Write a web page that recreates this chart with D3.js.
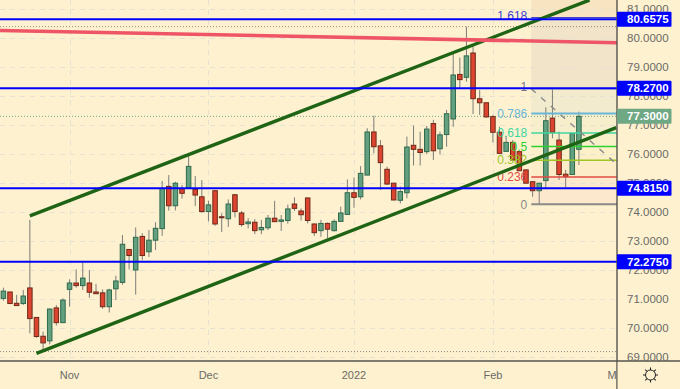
<!DOCTYPE html>
<html>
<head>
<meta charset="utf-8">
<style>
  html, body { margin: 0; padding: 0; background: #fdf1d0; }
  svg { display: block; font-family: "Liberation Sans", sans-serif; }
</style>
</head>
<body>
<svg id="chart" width="680" height="389"></svg>
<script src="https://cdn.jsdelivr.net/npm/d3@7"></script>
<script>
// daily candles
const opens = [71.01,71.23,70.84,70.83,71.37,70.35,69.70,69.54,70.68,70.17,71.32,71.54,71.45,71.54,71.23,71.20,70.72,71.34,71.56,72.70,71.99,73.15,72.62,73.02,
  73.42,74.88,74.21,74.80,74.82,74.78,74.52,74.01,74.73,73.83,73.76,74.59,73.96,73.59,73.64,73.38,73.45,73.78,73.67,73.70,74.27,74.03,74.48,73.58,73.35,73.60,73.35,73.67,73.91,74.66,
  74.52,75.27,76.76,76.28,75.47,74.99,74.40,74.66,76.30,76.16,76.08,77.05,76.18,76.67,77.21,78.75,78.65,79.49,77.91,77.77,77.29,76.75,76.09,76.40,76.08,75.45,75.04,74.73,75.08,77.24,76.48,75.30,75.29,76.16];
const highs = [71.38,71.23,71.13,71.30,73.72,70.35,69.86,70.66,70.78,71.01,71.67,72.01,72.24,71.99,71.51,71.32,71.34,71.79,73.20,72.70,73.46,73.26,73.37,73.64,
  75.07,75.27,75.04,74.93,75.93,75.24,75.10,74.38,74.73,73.95,74.43,74.62,74.03,73.78,73.75,73.72,73.89,74.38,73.89,74.25,74.50,74.12,74.49,73.60,73.72,73.63,73.74,74.18,75.12,75.19,
  75.58,76.89,77.32,76.48,75.56,74.99,74.87,76.60,76.98,76.77,76.97,77.18,76.77,77.52,79.48,79.33,80.40,79.71,78.21,77.77,77.35,76.94,76.62,76.48,76.08,75.45,75.04,74.99,77.61,78.23,76.77,75.45,76.71,77.46];
const lows = [70.93,70.83,70.76,70.78,69.80,69.65,69.22,69.42,70.07,70.17,70.72,71.38,71.30,71.03,71.16,70.65,70.52,70.95,71.48,72.01,71.14,72.34,72.44,72.68,
  73.17,74.04,74.05,74.46,74.80,74.20,73.97,73.67,73.52,73.30,73.48,73.81,73.49,73.43,73.23,73.23,73.37,73.65,73.34,73.59,74.03,73.70,73.60,73.17,73.14,73.08,73.32,73.65,73.89,74.14,
  74.43,75.27,76.02,74.76,74.93,74.40,74.29,74.47,75.60,75.60,75.99,75.79,75.99,76.25,76.94,78.27,78.50,77.38,77.35,77.25,76.40,76.00,76.07,75.77,75.42,74.99,74.52,74.27,74.81,76.54,75.10,74.85,75.29,75.62];
const closes = [71.26,70.83,70.76,71.09,70.31,69.69,69.47,70.64,70.17,70.95,71.54,71.45,71.71,71.22,71.17,70.72,71.30,71.61,72.88,72.49,73.12,72.49,73.02,73.43,
  74.81,74.21,74.99,74.64,75.57,74.58,74.01,74.24,73.58,73.80,74.27,74.01,73.56,73.65,73.35,73.46,73.78,73.66,73.72,74.10,74.12,73.90,73.70,73.28,73.60,73.40,73.67,73.96,74.66,74.50,
  75.33,76.76,76.25,75.70,74.96,74.41,74.70,76.24,76.16,76.05,76.86,76.11,76.66,77.39,78.73,78.57,79.39,77.91,77.77,77.28,76.75,76.02,76.40,75.79,75.42,74.99,74.73,74.99,77.15,76.75,75.29,75.22,76.71,77.30];

const priceTicks = [81,80,79,78,77,76,75,74,73,72,71,70,69];
const timeTicks = [[10,"Nov"],[31,"Dec"],[53,"2022"],[74,"Feb"],[92,"M"]];
const blueLevels = [80.6575,78.27,74.815,72.275];
const dottedLevels = [80.40,69.17];
const lastPrice = 77.30;

// [bar index, price] ends of the drawn lines
const channelUpper = [[4,73.86],[88.6,81.32]];
const channelLower = [[5,69.11],[92.65,76.91]];
const redLine = [[-1,80.27],[94,79.84]];

// fibonacci retracement tool
const fibStart = 79.8, fibLow = 74.26, fibHigh = 78.25;
const fibRatios = [0,0.236,0.382,0.5,0.618,0.786,1,1.618];
const fibColors = ["#8a8a86","#e04b45","#9fc625","#2ed12e","#3fd6a0","#6ab6d8","#787b86","#3f3fd0"];
const fibWidths = [2,1.5,1.5,1.5,1.5,2,1,1];
const fibBands = ["#fce9cd","#fcedc8","#fbf0c8","#f9f0ca","#f7efcc","#f3ebcd","#f1e4c9"];

const width = 680, height = 389, paneW = 617, paneH = 361;
const svg = d3.select("#chart");

const x = d3.scaleLinear().domain([0,87]).range([3.4,578.9]);
const y = d3.scaleLinear().domain([69,81]).range([356.5,9.3]);
const fib = r => fibLow + r * (fibHigh - fibLow);

svg.append("defs").append("clipPath").attr("id","pane")
  .append("rect").attr("width",paneW).attr("height",paneH);

svg.append("rect").attr("width",width).attr("height",height).attr("fill","#fdf1d0");

const pane = svg.append("g").attr("clip-path","url(#pane)");

// fib background, the part above 1.618 runs up to the pane top
const fibG = pane.append("g");
const fibX = x(fibStart);
fibG.selectAll("rect.band").data(d3.pairs(fibRatios)).join("rect").attr("class","band")
  .attr("x",fibX).attr("width",paneW-fibX)
  .attr("y",d => y(fib(d[1]))).attr("height",d => y(fib(d[0]))-y(fib(d[1])))
  .attr("fill",(d,i) => fibBands[i]);
fibG.append("rect").attr("x",fibX).attr("width",paneW-fibX).attr("y",0).attr("height",y(fib(1.618)))
  .attr("fill","#f8e4c0");

// grid
const grid = pane.append("g").attr("stroke","#e6e2d2").attr("stroke-width",1).attr("stroke-dasharray","5 5");
grid.selectAll("line.h").data(priceTicks).join("line").attr("class","h")
  .attr("x1",0).attr("x2",paneW)
  .attr("y1",d => Math.round(y(d))+0.5).attr("y2",d => Math.round(y(d))+0.5);
grid.selectAll("line.v").data(timeTicks.slice(0,4)).join("line").attr("class","v")
  .attr("y1",0).attr("y2",paneH)
  .attr("x1",d => Math.round(x(d[0]))+0.5).attr("x2",d => Math.round(x(d[0]))+0.5);

// dotted price lines
pane.selectAll("line.dot").data(dottedLevels).join("line").attr("class","dot")
  .attr("x1",0).attr("x2",paneW).attr("y1",d => y(d)).attr("y2",d => y(d))
  .attr("stroke","#8a8a80").attr("stroke-width",1).attr("stroke-dasharray","1 2");
pane.append("line").attr("x1",0).attr("x2",paneW).attr("y1",y(lastPrice)).attr("y2",y(lastPrice))
  .attr("stroke","#6fa884").attr("stroke-width",1).attr("stroke-dasharray","1 2");

// candles
const bars = d3.range(opens.length);
const candles = pane.append("g");
candles.selectAll("line").data(bars).join("line")
  .attr("x1",i => x(i)).attr("x2",i => x(i))
  .attr("y1",i => y(highs[i])).attr("y2",i => y(lows[i]))
  .attr("stroke","#7d7d78").attr("stroke-width",1);
candles.selectAll("rect").data(bars).join("rect")
  .attr("x",i => x(i)-2.25)
  .attr("width",4.5)
  .attr("y",i => y(Math.max(opens[i],closes[i])))
  .attr("height",i => Math.max(1,Math.abs(y(opens[i])-y(closes[i]))))
  .attr("fill",i => closes[i] >= opens[i] ? "#62a080" : "#dc4430")
  .attr("stroke",i => closes[i] >= opens[i] ? "#2f6a4c" : "#6e2a18")
  .attr("stroke-width",1);

// fib levels and their labels
const fibTop = pane.append("g");
fibTop.selectAll("line.level").data(fibRatios).join("line").attr("class","level")
  .attr("x1",fibX).attr("x2",paneW)
  .attr("y1",d => y(fib(d))).attr("y2",d => y(fib(d)))
  .attr("stroke",(d,i) => fibColors[i]).attr("stroke-width",(d,i) => fibWidths[i]);
fibTop.selectAll("text").data(fibRatios).join("text")
  .attr("x",fibX-4)
  .attr("y",d => y(fib(d)) - (d >= 1 ? 2 : 0))
  .attr("dy","0.35em")
  .attr("text-anchor","end")
  .attr("font-size",12)
  .attr("fill",(d,i) => fibColors[i])
  .text(d => d);
// dashed trend line of the tool
fibTop.append("line")
  .attr("x1",x(fibStart)).attr("y1",y(fib(1)))
  .attr("x2",x(99.6)).attr("y2",y(fib(0)))
  .attr("stroke","#8a8a86").attr("stroke-width",1.4).attr("stroke-dasharray","6 7");

// drawn lines
const line = d3.line().x(d => x(d[0])).y(d => y(d[1]));
pane.selectAll("path.channel").data([channelUpper,channelLower]).join("path").attr("class","channel")
  .attr("d",line).attr("fill","none").attr("stroke","#1f6414").attr("stroke-width",3.4);
pane.append("path").attr("d",line(redLine)).attr("fill","none").attr("stroke","#ee5566").attr("stroke-width",3.6);
pane.selectAll("line.blue").data(blueLevels).join("line").attr("class","blue")
  .attr("x1",0).attr("x2",paneW).attr("y1",d => y(d)).attr("y2",d => y(d))
  .attr("stroke","#0000ff").attr("stroke-width",2);

// axes frame
svg.append("line").attr("x1",0).attr("x2",width).attr("y1",paneH).attr("y2",paneH).attr("stroke","#55534c").attr("stroke-width",1.4);
svg.append("line").attr("x1",paneW).attr("x2",paneW).attr("y1",0).attr("y2",height).attr("stroke","#55534c").attr("stroke-width",1.4);

// price axis
svg.selectAll("text.price").data(priceTicks).join("text").attr("class","price")
  .attr("x",627).attr("y",d => y(d)).attr("dy","0.35em")
  .attr("font-size",11.5).attr("fill","#6b6b66")
  .text(d => d3.format(".4f")(d));

// time axis
svg.selectAll("text.time").data(timeTicks).join("text").attr("class","time")
  .attr("x",d => x(d[0])).attr("y",375).attr("dy","0.35em")
  .attr("text-anchor","middle").attr("font-size",11).attr("fill","#6b6b66")
  .text(d => d[1]);
svg.append("rect").attr("x",paneW+0.7).attr("y",362).attr("width",63).attr("height",27).attr("fill","#fdf1d0");

// price labels
const tags = blueLevels.map(v => ({v:v, bg:"#0000ff"})).concat([{v:lastPrice, bg:"#6fa884"}]);
const tag = svg.selectAll("g.tag").data(tags).join("g").attr("class","tag")
  .attr("transform",d => `translate(${paneW},${y(d.v)})`);
tag.append("rect").attr("y",-7.5).attr("width",54.5).attr("height",15).attr("rx",1).attr("fill",d => d.bg);
tag.append("text").attr("x",10).attr("dy","0.35em").attr("font-size",11.5).attr("fill","#fff")
  .attr("font-weight","bold").text(d => d3.format(".4f")(d.v));

// settings icon
const gear = svg.append("g").attr("transform","translate(650.5,375)").attr("fill","none").attr("stroke","#222").attr("stroke-width",1);
gear.append("circle").attr("r",5);
gear.selectAll("line").data(d3.range(8)).join("line")
  .attr("transform",d => `rotate(${d*45})`)
  .attr("y1",-5).attr("y2",-7.5);
</script>
</body>
</html>
